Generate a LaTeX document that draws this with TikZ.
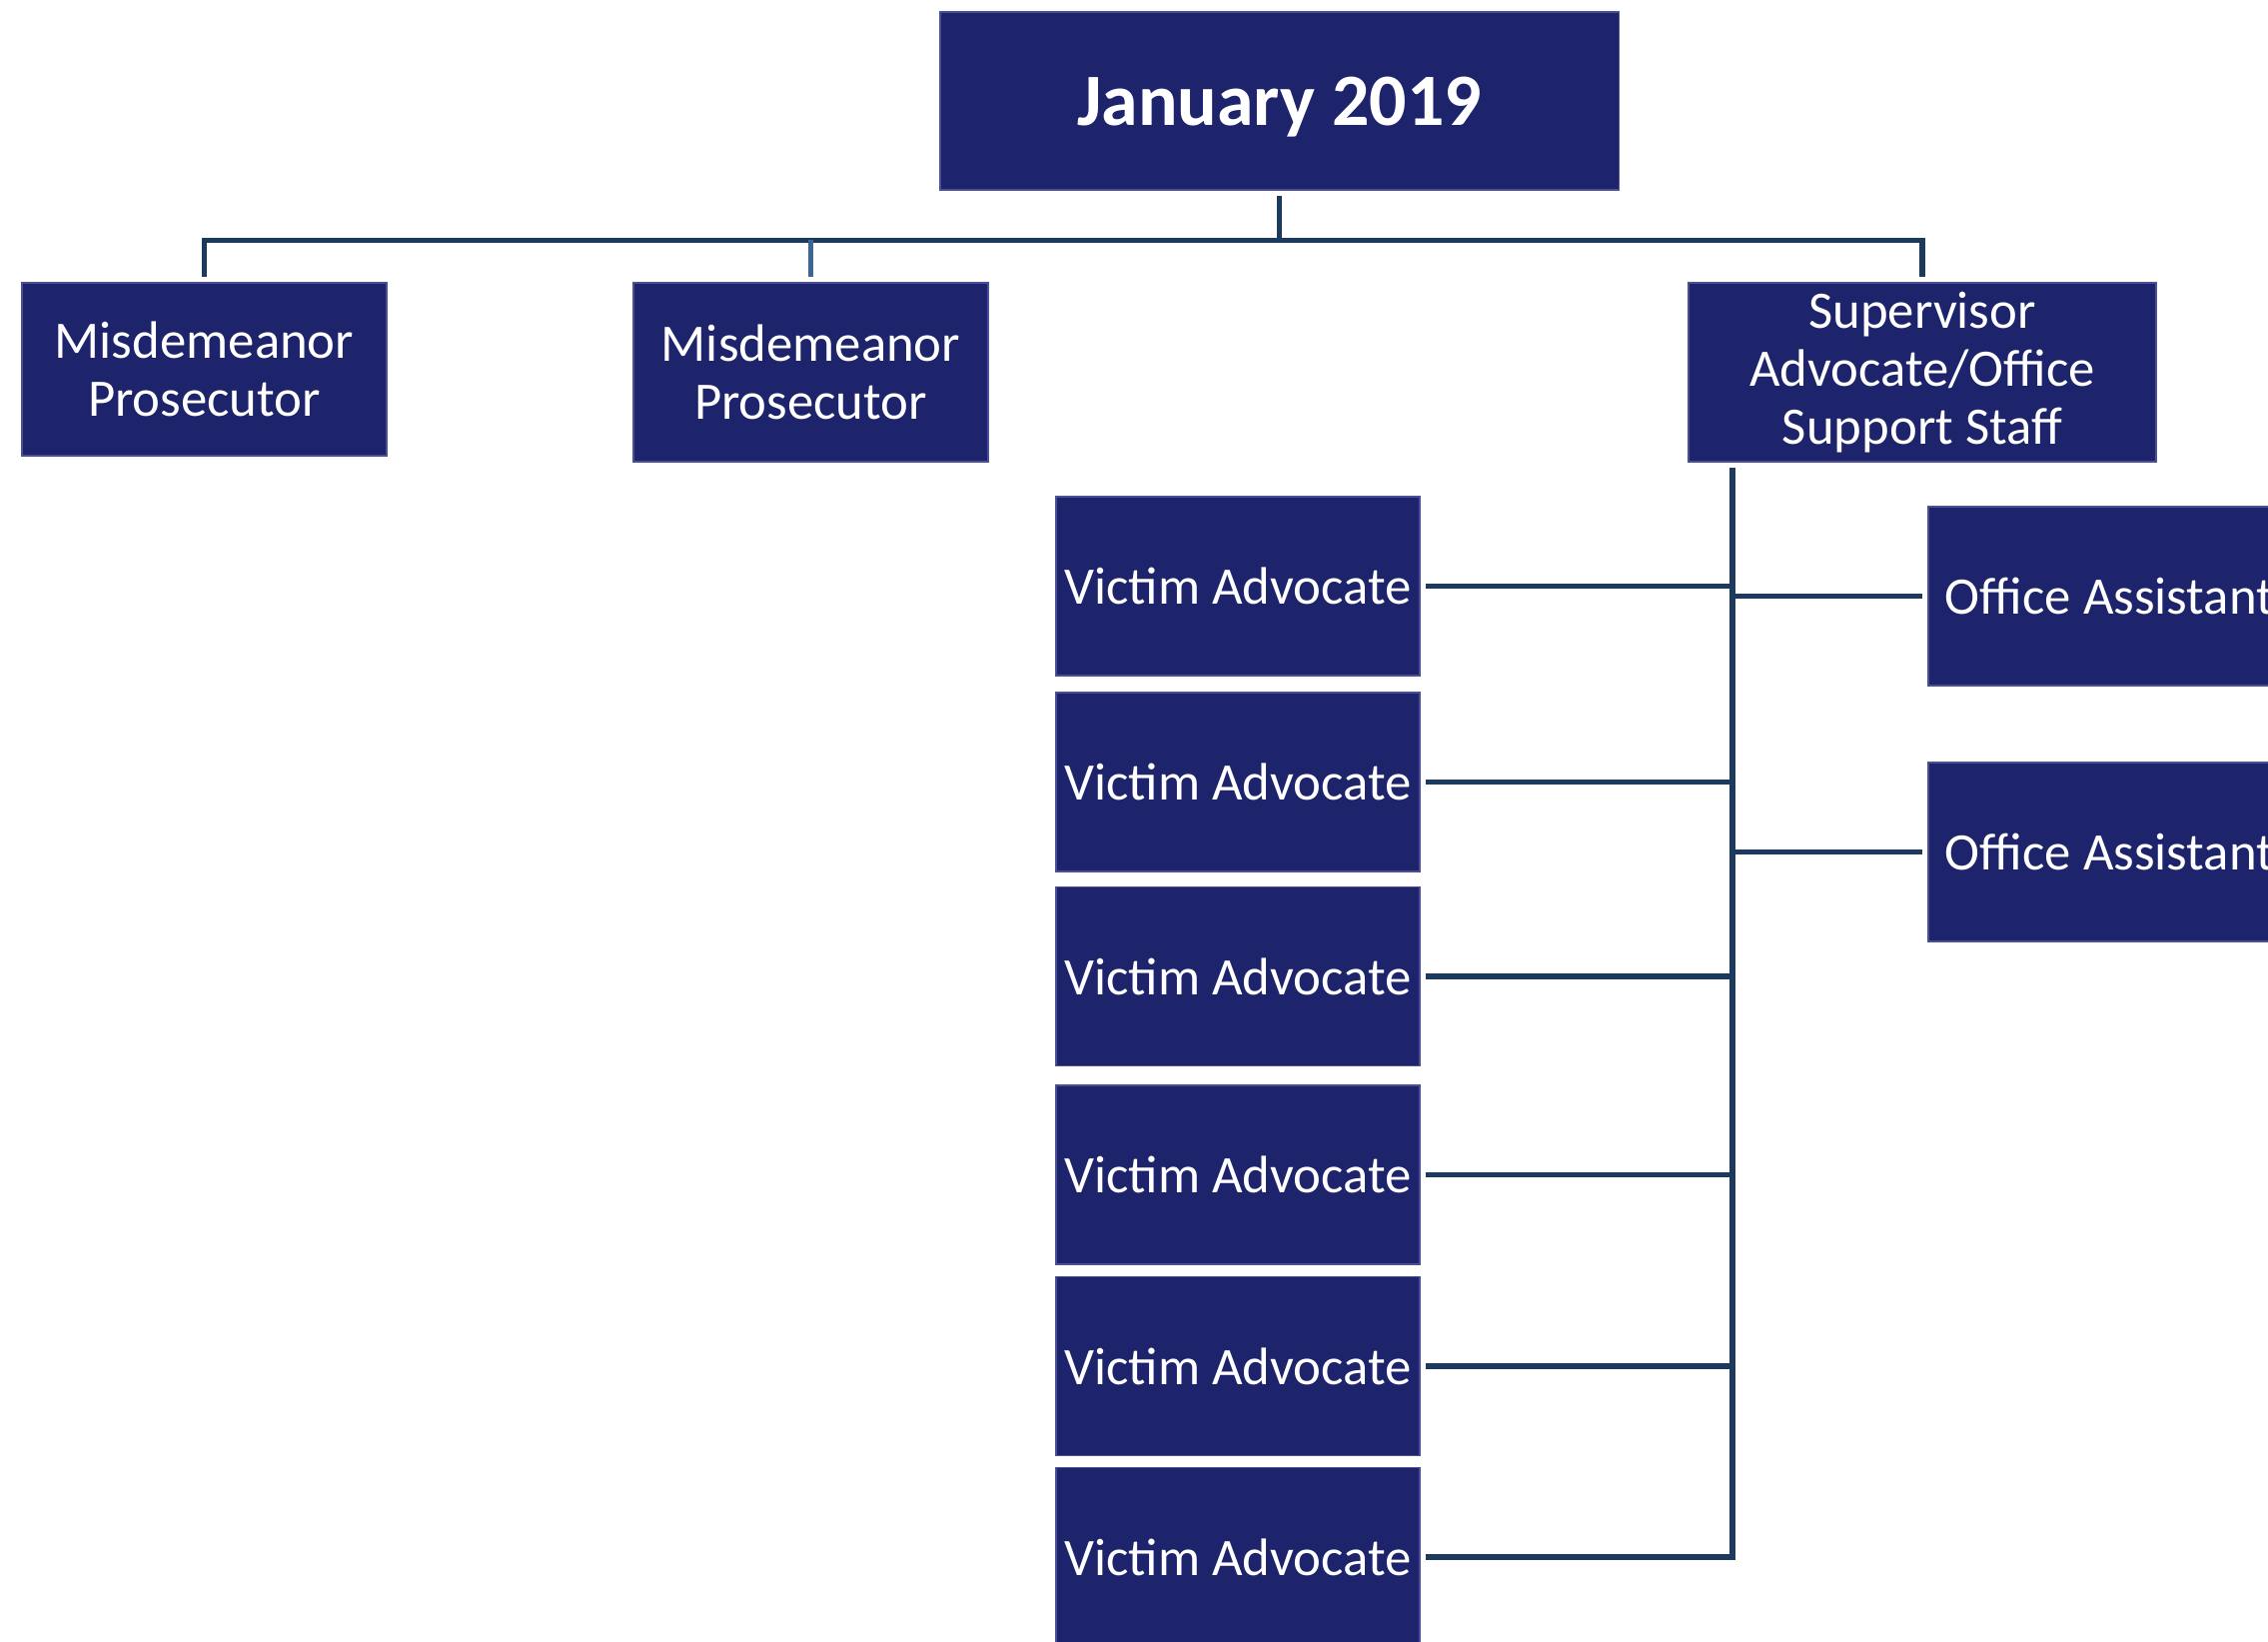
\documentclass[tikz,border=0pt]{standalone}
\usepackage{fontspec}
\setmainfont{Carlito}
\definecolor{navy}{HTML}{1D246B}
\definecolor{boxedge}{HTML}{4B5096}
\definecolor{linkblue}{HTML}{1B3A5E}
\definecolor{steel}{HTML}{3F6595}
\tikzset{
  post/.style={fill=navy, draw=boxedge, line width=0.4pt, text=white, align=center,
    inner sep=1pt, outer sep=1.7pt, minimum width=3.64cm, minimum height=1.79cm,
    font=\fontsize{15}{16.5}\selectfont},
  link/.style={draw=linkblue, line width=1.45pt},
  softlink/.style={draw=steel, line width=1.35pt}
}
\begin{document}
\begin{tikzpicture}[x=0.01cm,y=-0.01cm]
      \useasboundingbox (0,0) rectangle (2270,1643);
      \clip (0,0) rectangle (2270,1643);
      \draw
        (1280.5,101) node[post, minimum width=6.79cm, minimum height=1.78cm, text depth=0pt,
          font=\fontsize{21}{24}\selectfont\bfseries] (jan){January 2019}
        (204.5,369.5) node[post, minimum width=3.65cm, minimum height=1.73cm] (mp1){Misdemeanor\\Prosecutor}
        (811.5,372.5) node[post, minimum width=3.55cm] (mp2){Misdemeanor\\Prosecutor}
        (1924,372.5) node[post, minimum width=4.68cm] (sup){Supervisor\\Advocate/Office\\Support Staff}
        (1239,586.5) node[post] (va1){Victim Advocate}
        (1239,782.5) node[post] (va2){Victim Advocate}
        (1239,977) node[post] (va3){Victim Advocate}
        (1239,1175.5) node[post] (va4){Victim Advocate}
        (1239,1367) node[post] (va5){Victim Advocate}
        (1239,1558) node[post] (va6){Victim Advocate}
        (2111.5,596.5) node[post, minimum width=3.63cm] (oa1){Office Assistant}
        (2111.5,852.5) node[post, minimum width=3.63cm] (oa2){Office Assistant};
      \coordinate (bus) at (1280.5,240.5);
      \coordinate (stem) at (1734,1558);
      \begin{scope}[-]
        \draw[link] (jan.south) to (bus);
        \draw[link] (mp1.north) |- (bus) -| (sup.north);
        \draw[softlink] (mp2.north) to (mp2.north |- bus);
        \draw[link] (stem |- sup.south) |- (va6.east);
        \draw[link] (va1.east) to (va1.east -| stem);
        \draw[link] (va2.east) to (va2.east -| stem);
        \draw[link] (va3.east) to (va3.east -| stem);
        \draw[link] (va4.east) to (va4.east -| stem);
        \draw[link] (va5.east) to (va5.east -| stem);
        \draw[link] (oa1.west) to (oa1.west -| stem);
        \draw[link] (oa2.west) to (oa2.west -| stem);
      \end{scope}
    \end{tikzpicture}
\end{document}
